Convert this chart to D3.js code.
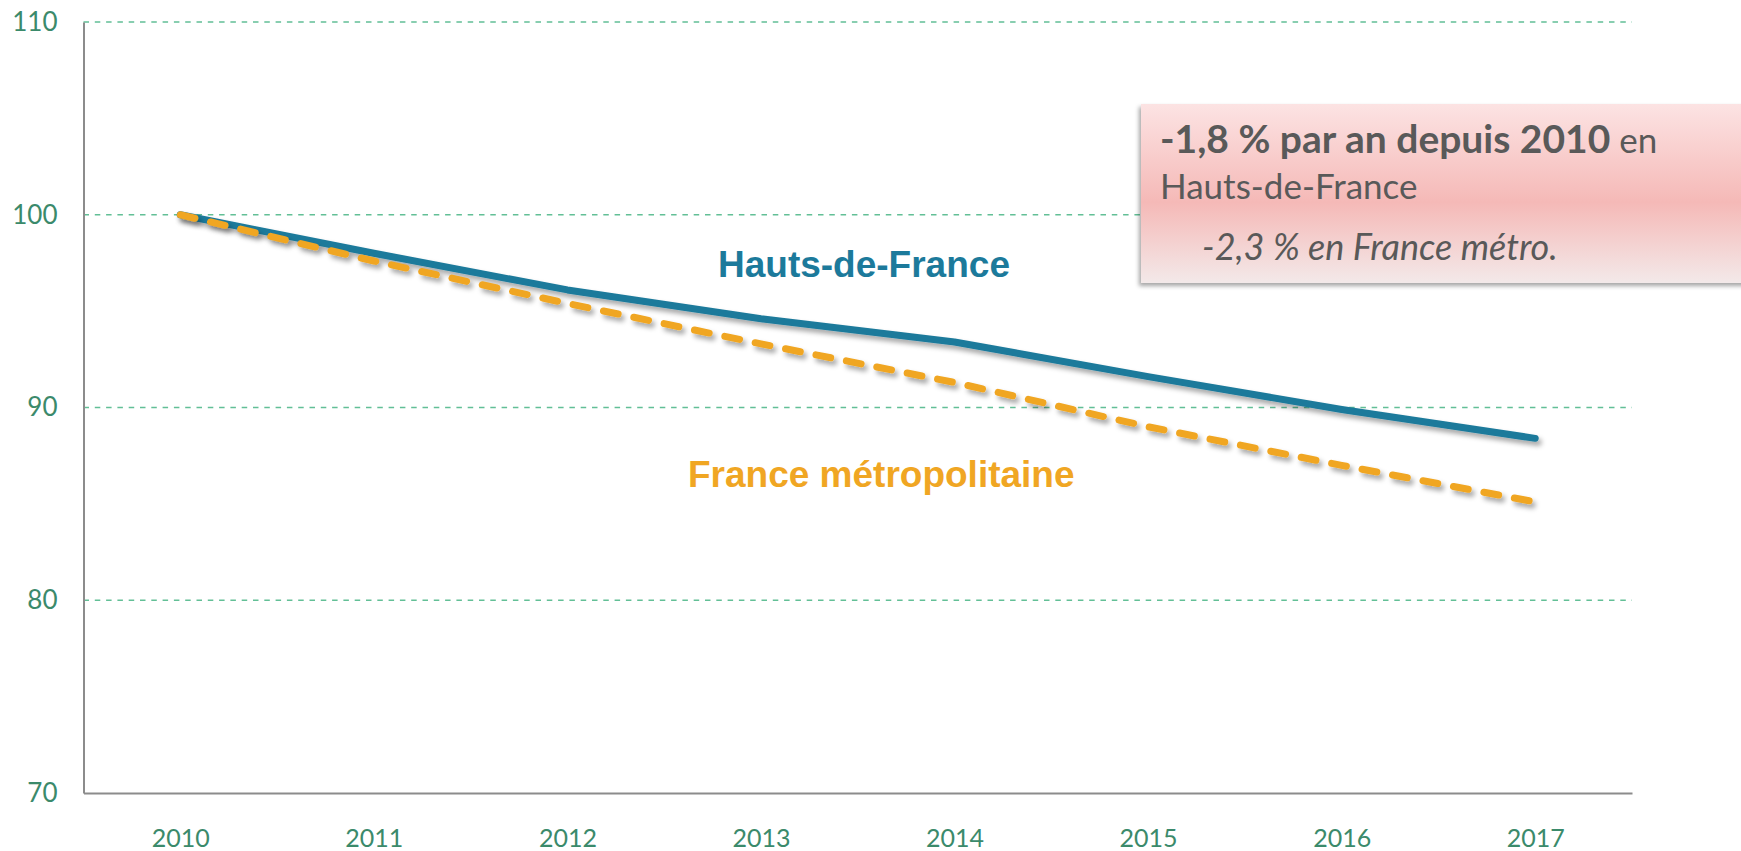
<!DOCTYPE html>
<html>
<head>
<meta charset="utf-8">
<script src="https://cdn.jsdelivr.net/npm/d3@7"></script>
<style>
  html, body { margin: 0; padding: 0; background: #fff; }
  svg { display: block; }
</style>
</head>
<body>
<svg id="chart" width="1741" height="851"></svg>
<script>
const years = [2010, 2011, 2012, 2013, 2014, 2015, 2016, 2017];
const hautsDeFrance = [100, 98.0, 96.1, 94.6, 93.4, 91.6, 89.9, 88.4];
const franceMetro = [100, 97.6, 95.4, 93.3, 91.3, 89.0, 87.0, 85.1];
const yTicks = [70, 80, 90, 100, 110];
const gridValues = [80, 90, 100, 110];
const seriesNames = ["Hauts-de-France", "France métropolitaine"];
const noteLine1Bold = "-1,8 % par an depuis 2010";
const noteLine1Rest = " en";
const noteLine2 = "Hauts-de-France";
const noteLine3 = "-2,3 % en France métro.";

(function () {
const svg = d3.select("#chart");
const W = 1741, H = 851;
const pLeft = 83.5, pRight = 1632, pTop = 22, pBottom = 793;

const x = d3.scalePoint().domain(years).range([pLeft, pRight]).padding(0.5);
const y = d3.scaleLinear().domain([70, 110]).range([pBottom, pTop]);

const defs = svg.append("defs");
const sh = defs.append("filter").attr("id", "lineShadow")
  .attr("x", "-5%").attr("y", "-20%").attr("width", "110%").attr("height", "150%");
sh.append("feDropShadow").attr("dx", 3).attr("dy", 4).attr("stdDeviation", 2.5)
  .attr("flood-color", "#000").attr("flood-opacity", 0.35);
const sh2 = defs.append("filter").attr("id", "boxShadow")
  .attr("x", "-5%").attr("y", "-10%").attr("width", "110%").attr("height", "125%");
sh2.append("feDropShadow").attr("dx", -2).attr("dy", 3).attr("stdDeviation", 2)
  .attr("flood-color", "#000").attr("flood-opacity", 0.35);
const grad = defs.append("linearGradient").attr("id", "boxGrad")
  .attr("x1", 0).attr("y1", 0).attr("x2", 0).attr("y2", 1);
grad.append("stop").attr("offset", "0%").attr("stop-color", "#fce3e3");
grad.append("stop").attr("offset", "55%").attr("stop-color", "#f5b9b7");
grad.append("stop").attr("offset", "100%").attr("stop-color", "#f3e9e9");

// gridlines
svg.append("g").selectAll("line").data(gridValues).join("line")
  .attr("x1", pLeft).attr("x2", pRight)
  .attr("y1", d => y(d)).attr("y2", d => y(d))
  .attr("stroke", "#62bf96").attr("stroke-width", 1.6)
  .attr("stroke-dasharray", "5.5,5.8");

// axes
const axisColor = "#8c8c8c";
const tickColor = "#3b8a6b";
const yAxis = svg.append("g").attr("transform", `translate(${pLeft},0)`)
  .call(d3.axisLeft(y).tickValues(yTicks).tickSize(0).tickPadding(26).tickFormat(d3.format("d")));
yAxis.select(".domain").attr("stroke", axisColor).attr("stroke-width", 2);
yAxis.selectAll("text").attr("fill", tickColor).style("font-family", "Lato, 'Open Sans', sans-serif").style("font-size", "26px");

const xAxis = svg.append("g").attr("transform", `translate(0,${pBottom})`)
  .call(d3.axisBottom(x).tickSize(0).tickPadding(36).tickFormat(d3.format("d")));
xAxis.select(".domain").attr("stroke", axisColor).attr("stroke-width", 2);
xAxis.selectAll("text").attr("fill", tickColor).style("font-family", "Lato, 'Open Sans', sans-serif").style("font-size", "25px");

// lines
const line = d3.line().x((d, i) => x(years[i])).y(d => y(d));
svg.append("path").datum(hautsDeFrance).attr("d", line)
  .attr("fill", "none").attr("stroke", "#1c7a9b").attr("stroke-width", 7)
  .attr("stroke-linecap", "round").attr("stroke-linejoin", "round")
  .attr("filter", "url(#lineShadow)");
svg.append("path").datum(franceMetro).attr("d", line)
  .attr("fill", "none").attr("stroke", "#f0a623").attr("stroke-width", 7)
  .attr("stroke-linecap", "round").attr("stroke-linejoin", "round")
  .attr("stroke-dasharray", "15,16")
  .attr("filter", "url(#lineShadow)");

// series labels
svg.append("text").attr("x", 718).attr("y", 277).text(seriesNames[0])
  .attr("fill", "#1c7a9b").style("font-family", "'Liberation Sans', Arial, sans-serif")
  .style("font-weight", "bold").style("font-size", "37px");
svg.append("text").attr("x", 688).attr("y", 487).text(seriesNames[1])
  .attr("fill", "#f0a623").style("font-family", "'Liberation Sans', Arial, sans-serif")
  .style("font-weight", "bold").style("font-size", "37px");

// annotation box
svg.append("rect").attr("x", 1141).attr("y", 104).attr("width", W - 1141 + 10).attr("height", 179)
  .attr("fill", "url(#boxGrad)").attr("filter", "url(#boxShadow)");
const noteFont = "Lato, 'Open Sans', sans-serif";
const t1 = svg.append("text").attr("x", 1160).attr("y", 153)
  .attr("fill", "#595959").style("font-family", noteFont);
t1.append("tspan").style("font-weight", "bold").style("font-size", "39px").text(noteLine1Bold);
t1.append("tspan").style("font-size", "35px").text(noteLine1Rest);
svg.append("text").attr("x", 1160).attr("y", 199).text(noteLine2)
  .attr("fill", "#595959").style("font-family", noteFont).style("font-size", "35px");
svg.append("text").attr("x", 1202).attr("y", 260).text(noteLine3)
  .attr("fill", "#595959").style("font-family", noteFont).style("font-size", "36px").style("font-style", "italic");
})();
</script>
</body>
</html>
